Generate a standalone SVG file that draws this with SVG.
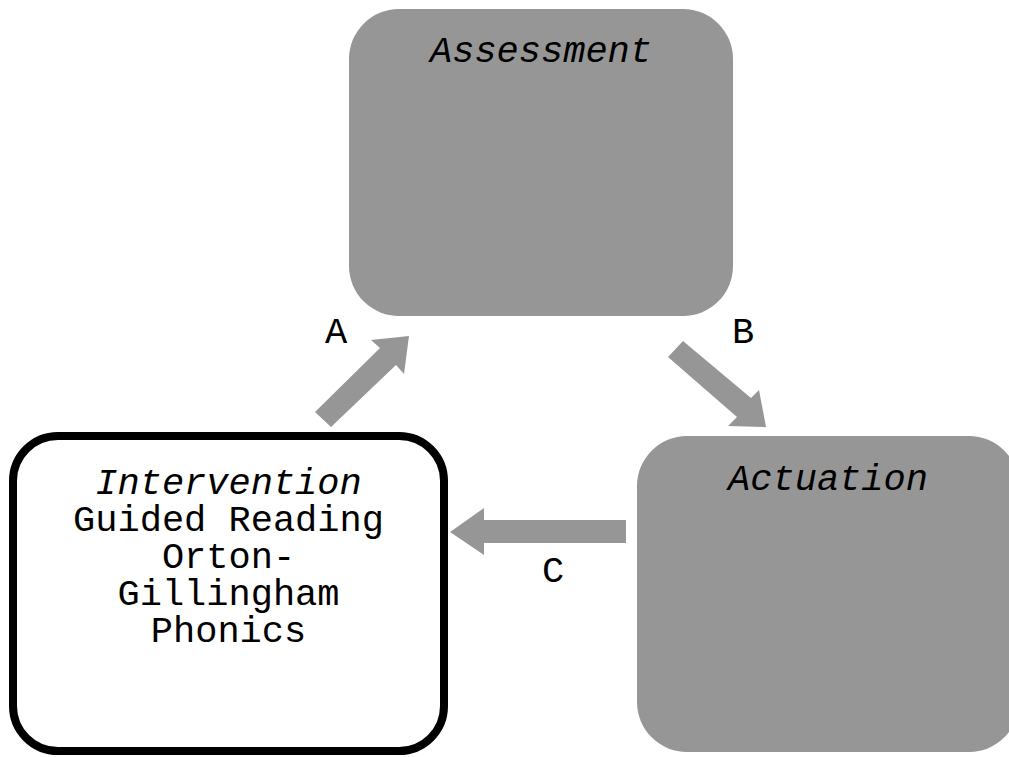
<svg xmlns="http://www.w3.org/2000/svg" width="1009" height="757" viewBox="0 0 1009 757">
<style>
.box{fill:#969696;}
.wbox{fill:#ffffff;stroke:#000000;stroke-width:8;}
.t{font-family:"Liberation Mono","Courier New",monospace;font-size:37px;fill:#000;text-anchor:middle;}
.it{font-style:italic;}
.arr{fill:#969696;}
</style>
<rect x="0" y="0" width="1009" height="757" fill="#ffffff"/>
<g id="connectors">
<polygon class="arr" points="315,412 380,348 371,340 409,336 404,374 396,365 331,427"/>
<polygon class="arr" points="683,341 751,398 759,390 766,427 728,426 737,417 668,357"/>
<polygon class="arr" points="626,520 484,520 484,508 450,532 484,555 484,543 626,543"/>
<text class="t" x="336" y="343">A</text>
<text class="t" x="743" y="343">B</text>
<text class="t" x="553" y="582">C</text>
</g>
<g id="assessment">
<rect class="box" x="349" y="9" width="384" height="307" rx="50" ry="50"/>
<text class="t it" x="541" y="62">Assessment</text>
</g>
<g id="actuation">
<rect class="box" x="637" y="436" width="382" height="316" rx="50" ry="50"/>
<text class="t it" x="828" y="490">Actuation</text>
</g>
<g id="intervention">
<rect class="wbox" x="13" y="436" width="431" height="315" rx="45" ry="45"/>
<text class="t it" x="228.5" y="494">Intervention</text>
<text class="t" x="228.5" y="531">Guided Reading</text>
<text class="t" x="228.5" y="568">Orton-</text>
<text class="t" x="228.5" y="605">Gillingham</text>
<text class="t" x="228.5" y="642">Phonics</text>
</g>
</svg>
